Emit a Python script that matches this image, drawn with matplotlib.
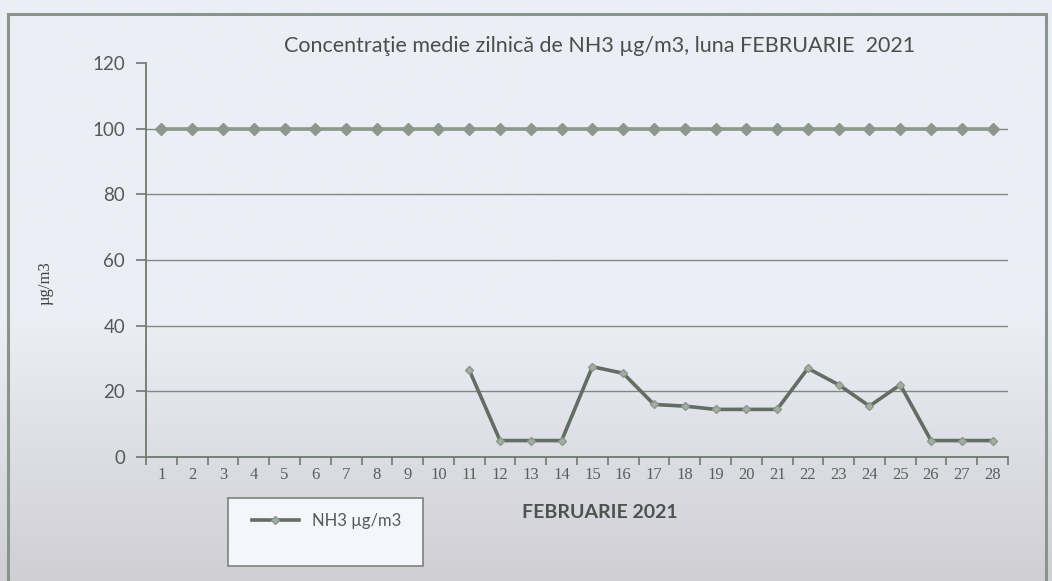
import numpy as np
import matplotlib
matplotlib.use("Agg")
import matplotlib.pyplot as plt
from matplotlib.patches import Rectangle
from matplotlib.colors import LinearSegmentedColormap

# values
days = list(range(1, 29))
nh3_days = list(range(11, 29))
nh3 = [26.5, 5, 5, 5, 27.5, 25.5, 16, 15.5, 14.5, 14.5, 14.5, 27, 22, 15.5, 22, 5, 5, 5]
limit = [100] * 28
yticks = [0, 20, 40, 60, 80, 100, 120]

title = "Concentraţie medie zilnică de NH3 µg/m3, luna FEBRUARIE  2021"
xlabel = "FEBRUARIE 2021"
ylabel = "µg/m3"
legend_label = "NH3 µg/m3"

W, H = 1052, 581
fig = plt.figure(figsize=(W / 100, H / 100), dpi=100)
fig.patch.set_facecolor("#eceef6")

# background gradient (light at top, greyer at bottom)
bg = fig.add_axes([0, 0, 1, 1], zorder=-10)
grad = np.linspace(0, 1, 256).reshape(-1, 1)
grad = np.clip((grad - 0.55) / 0.45, 0, 1)
cmap = LinearSegmentedColormap.from_list("bgc", ["#eceef6", "#cfcfd4"])
bg.imshow(grad, aspect="auto", cmap=cmap, extent=[0, 1, 0, 1], origin="upper")
bg.axis("off")

# outer chart frame
fig.patches.append(Rectangle((8 / W, -0.05), (1046 - 8) / W, 1.05 - 14 / H,
                             transform=fig.transFigure, fill=False,
                             edgecolor="#8a948a", lw=2.2, zorder=-5))

# legend box
fig.patches.append(Rectangle((228 / W, 1 - 566 / H), (423 - 228) / W, (566 - 498) / H,
                             transform=fig.transFigure, facecolor="#f5f6fb",
                             edgecolor="#7a847a", lw=1.2, zorder=-5))

ax = fig.add_axes([146 / W, 1 - 457 / H, (1008 - 146) / W, (457 - 63) / H])
ax.patch.set_alpha(0)

grid_c = "#7f8b7f"
for y in yticks[1:-1]:
    ax.axhline(y, color=grid_c, lw=1.0, zorder=1)

ax.plot(days, limit, color="#8d988d", lw=2.6, marker="D", ms=6.5,
        mfc="#8d988d", mec="#8d988d", zorder=3)
ax.plot(nh3_days, nh3, color="#636d63", lw=2.6, marker="D", ms=4,
        mfc="#a3ada3", mec="#8d988d", zorder=4, label=legend_label)

ax.set_xlim(0.5, 28.5)
ax.set_ylim(0, 120)
ax.set_yticks(yticks)
ax.set_xticks(days)
ax.set_xticks(np.arange(0.5, 29, 1), minor=True)
ax.tick_params(axis="x", which="major", length=0, pad=7)
ax.tick_params(axis="x", which="minor", length=6, width=1.2, color="#6f7a6f")
ax.tick_params(axis="y", length=7, width=1.2, color="#6f7a6f", pad=8)

for lab in ax.get_yticklabels():
    lab.set_fontfamily("Lato")
    lab.set_fontsize(13.5)
    lab.set_color("#555a55")
for lab in ax.get_xticklabels():
    lab.set_fontfamily("Liberation Serif")
    lab.set_fontsize(12)
    lab.set_color("#56615a")

for s in ["top", "right"]:
    ax.spines[s].set_visible(False)
for s in ["left", "bottom"]:
    ax.spines[s].set_color("#6f7a6f")
    ax.spines[s].set_linewidth(1.3)

fig.text(600 / W, 1 - 46 / H, title, ha="center", va="center",
         fontfamily="Lato", fontsize=15.5, color="#4a4f4a")
fig.text(600 / W, 1 - 512 / H, xlabel, ha="center", va="center",
         fontfamily="Lato", fontweight="bold", fontsize=14, color="#4d524d")
fig.text(46 / W, 1 - 283 / H, ylabel, ha="center", va="center", rotation=90,
         fontfamily="Liberation Serif", fontsize=12, color="#3e423e")

leg = ax.legend(loc="center left", bbox_to_anchor=(252 / W, 1 - 521 / H),
                bbox_transform=fig.transFigure, frameon=False,
                handlelength=2.8, borderaxespad=0, borderpad=0,
                prop={"family": "Lato", "size": 12})
for t in leg.get_texts():
    t.set_color("#555a55")

fig.savefig("out.png", dpi=100)
